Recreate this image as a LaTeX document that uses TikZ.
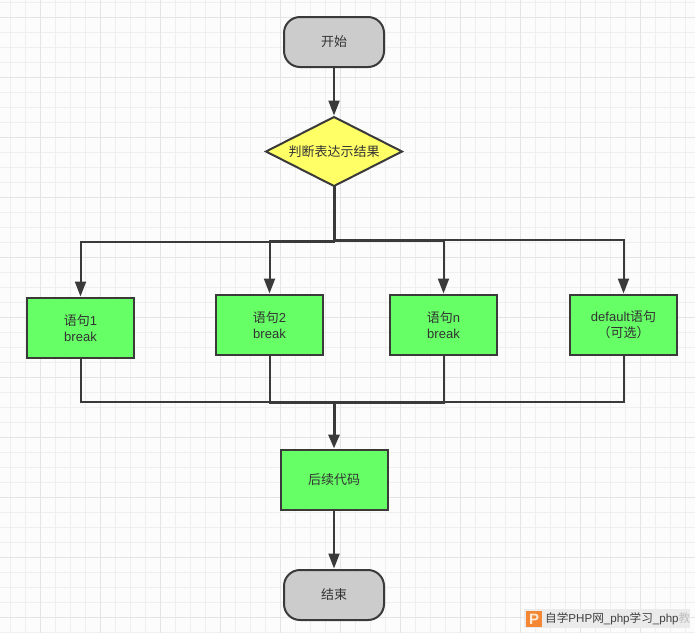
\documentclass[tikz,border=0pt]{standalone}
\usepackage{fontspec}
\setmainfont{Liberation Sans}
\newfontfamily\cjk{Noto Sans CJK SC}
\usetikzlibrary{shapes.geometric,arrows.meta}
\definecolor{ink}{HTML}{3A3A3A}
\definecolor{txt}{HTML}{333333}
\definecolor{gridminor}{HTML}{EFEFEF}
\definecolor{gridmajor}{HTML}{E4E4E4}
\definecolor{decfill}{HTML}{FFFF66}
\definecolor{procfill}{HTML}{66FF66}
\definecolor{logofill}{HTML}{F58634}
\definecolor{logotext}{HTML}{FDEBD8}
\tikzset{
  base/.style={draw=ink,line width=2pt,outer sep=0pt,inner sep=0pt,text=txt,align=center,
    font=\fontsize{13}{16}\selectfont},
  terminal/.style={base,rectangle,rounded corners=16pt,fill=black!20,minimum width=100pt,minimum height=50pt},
  decision/.style={base,diamond,aspect=1.97,fill=decfill,minimum width=136pt,minimum height=69pt},
  process/.style={base,rectangle,fill=procfill,minimum width=107pt,minimum height=60pt},
  flow/.style={ink,line width=2pt},
  flowin/.style={flow,-{Triangle[length=15pt,width=11pt]},shorten >=1.5pt},
}
\begin{document}
\begin{tikzpicture}[x=1pt,y=-1pt]
\useasboundingbox (0,0) rectangle (695,633);
\fill[white!99!black] (0,0) rectangle (695,633);
\foreach \i in {-2,...,46} {
  \draw[gridminor,line width=1pt] ({10.5+15*\i},0) -- ({10.5+15*\i},633);
}
\foreach \i in {-1,...,42} {
  \draw[gridminor,line width=1pt] (0,{17+15*\i}) -- (695,{17+15*\i});
}
\foreach \i in {0,...,11} {
  \draw[gridmajor,line width=1pt] ({40.5+60*\i},0) -- ({40.5+60*\i},633);
}
\foreach \i in {-1,...,10} {
  \draw[gridmajor,line width=1pt] (0,{17+60*\i}) -- (695,{17+60*\i});
}

\node[terminal] (start) at (334,42) {{\cjk 开始}};
\node[decision] (dec) at (334,151.5) {{\cjk 判断表达示结果}};
\node[process] (b1) at (80.5,328) {{\cjk 语句}1\\break};
\node[process] (b2) at (269.5,325) {{\cjk 语句}2\\break};
\node[process] (bn) at (443.5,325) {{\cjk 语句}n\\break};
\node[process] (bd) at (623.5,325) {default{\cjk 语句}\\{\cjk （可选）}};
\node[process] (next) at (334,480) {{\cjk 后续代码}};
\node[terminal] (end) at (334,595) {{\cjk 结束}};

\coordinate (s1) at (334,241.5);
\coordinate (s2) at (334,240.5);
\coordinate (s3) at (334,240.5);
\coordinate (s4) at (334,239.5);
\coordinate (m1) at (334,401.5);
\coordinate (m2) at (334,402.5);
\coordinate (m3) at (334,402.5);
\coordinate (m4) at (334,401.5);

\draw[flowin] (start) -- (dec);
\draw[flow,line width=3pt] (dec.south) -- (s1);
\draw[flowin] (dec.south) -- (s1) -| (b1.north);
\draw[flowin] (dec.south) -- (s2) -| (b2.north);
\draw[flowin] (dec.south) -- (s3) -| (bn.north);
\draw[flowin] (dec.south) -- (s4) -| (bd.north);
\draw[flow] (b1.south) |- (m1);
\draw[flow] (b2.south) |- (m2);
\draw[flow] (bn.south) |- (m3);
\draw[flow] (bd.south) |- (m4);
\draw[flowin,line width=3pt,-{Triangle[length=14pt,width=11pt]}] (m1) -- (next);
\draw[flowin] (next) -- (end);

% watermark
\node[anchor=north west,fill=black!8,minimum width=166pt,minimum height=19pt,inner sep=0pt,outer sep=0pt] (wm) at (524,609) {};
\node[anchor=west,fill=logofill,text=logotext,minimum size=16pt,inner sep=0pt,font=\bfseries\fontsize{15}{15}\selectfont] (logo) at (526,619) {P};
\node[anchor=west,inner sep=0pt,text=black!75,font=\fontsize{11.6}{14}\selectfont] (wmt) at (545,619) {{\cjk 自学}PHP{\cjk 网}\_php{\cjk 学习}\_php\textcolor{black!25}{\cjk 教}};
\end{tikzpicture}
\end{document}
